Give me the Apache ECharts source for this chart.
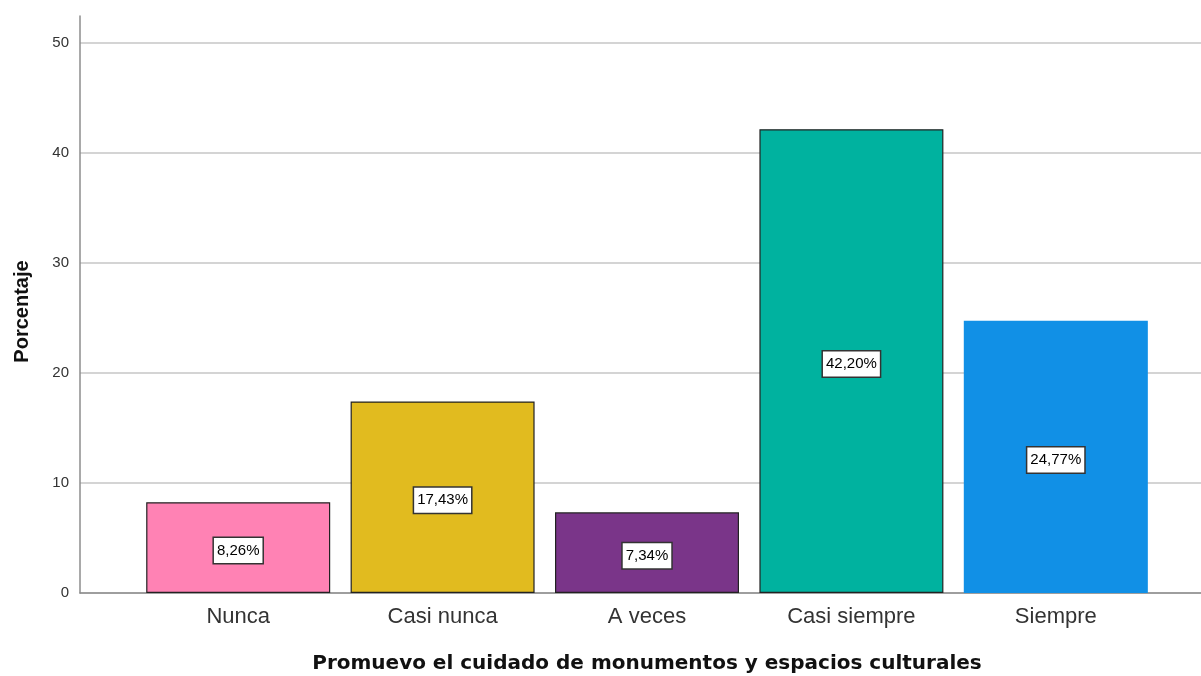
<!DOCTYPE html>
<html>
<head>
<meta charset="utf-8">
<script src="https://cdn.jsdelivr.net/npm/echarts@6/dist/echarts.min.js"></script>
<style>
html,body{margin:0;padding:0;background:#fff;}
#c{width:1201px;height:676px;}
</style>
</head>
<body>
<div id="c"></div>
<script>
const categories = ['Nunca', 'Casi nunca', 'A veces', 'Casi siempre', 'Siempre'];
const percentages = [8.26, 17.43, 7.34, 42.20, 24.77];
const yTicks = [0, 10, 20, 30, 40, 50];

const palette = ['#FF82B4', '#E1BB1F', '#7A3589', '#00B29F', '#1190E6'];
const borders = ['#222222', '#222222', '#222222', '#222222', '#1190E6'];
const FONT = '"Liberation Sans", Arial, sans-serif';
const YMAX = 52.5;

const chart = echarts.init(document.getElementById('c'), null, {renderer: 'canvas'});
chart.setOption({
  animation: false,
  backgroundColor: '#ffffff',
  grid: [
    {left: 80, right: 0, top: 43, bottom: 83, outerBoundsMode: 'none', containLabel: false},
    {left: 136, right: 43, top: 16, bottom: 83, outerBoundsMode: 'none', containLabel: false},
    {left: 80, right: 0, top: 16, bottom: 83, outerBoundsMode: 'none', containLabel: false}
  ],
  xAxis: [
    {
      gridIndex: 0, type: 'value', min: 0, max: 1,
      axisLine: {show: true, lineStyle: {color: '#8c8c8c', width: 1.5}},
      axisTick: {show: false}, axisLabel: {show: false}, splitLine: {show: false}
    },
    {
      gridIndex: 1, type: 'category', data: categories,
      axisLine: {show: false}, axisTick: {show: false},
      axisLabel: {color: '#333333', fontSize: 22, fontFamily: FONT, margin: 13},
      name: 'Promuevo el cuidado de monumentos y espacios culturales',
      nameLocation: 'middle', nameGap: 61,
      nameTextStyle: {color: '#111111', fontSize: 20, fontWeight: 'bold', fontFamily: '"DejaVu Sans", sans-serif'}
    },
    {
      gridIndex: 2, type: 'value', min: 0, max: 1, show: false
    }
  ],
  yAxis: [
    {
      gridIndex: 0, type: 'value', min: 0, max: 50, interval: 10,
      axisLine: {show: false},
      axisTick: {show: false},
      axisLabel: {
        color: '#333333', fontSize: 15, fontFamily: FONT, margin: 11,
        formatter: v => (yTicks.indexOf(v) >= 0 ? String(v) : '')
      },
      splitLine: {show: true, lineStyle: {color: '#d4d4d4', width: 2}}
    },
    {
      gridIndex: 1, type: 'value', min: 0, max: YMAX, show: false,
      splitLine: {show: false}
    },
    {
      gridIndex: 2, type: 'value', min: 0, max: YMAX,
      axisLine: {show: true, lineStyle: {color: '#8c8c8c', width: 1.5}},
      axisTick: {show: false}, axisLabel: {show: false}, splitLine: {show: false},
      name: 'Porcentaje', nameLocation: 'middle', nameGap: 48,
      nameTextStyle: {color: '#111111', fontSize: 20, fontWeight: 'bold', fontFamily: FONT, padding: [0, 14, 0, 0]}
    }
  ],
  series: [{
    type: 'bar',
    xAxisIndex: 1, yAxisIndex: 1,
    barWidth: 184,
    data: percentages.map((v, i) => ({
      value: v,
      itemStyle: {color: palette[i], borderColor: borders[i], borderWidth: 1.2}
    })),
    label: {
      show: true, position: 'inside', offset: [0, 3],
      formatter: p => p.value.toFixed(2).replace('.', ',') + '%',
      color: '#000000', fontSize: 15, fontFamily: FONT,
      backgroundColor: '#ffffff', borderColor: '#333333', borderWidth: 1.5,
      padding: [6, 3, 4, 3]
    }
  }]
});
</script>
</body>
</html>
